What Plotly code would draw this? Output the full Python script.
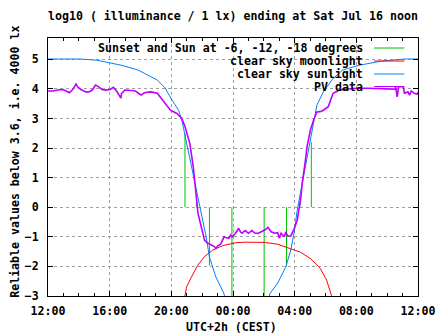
import plotly.graph_objects as go

# ---------------- data (x in hours after Fri 12:00 CEST) ----------------
tick_hours = [0, 4, 8, 12, 16, 20, 24]
tick_labels = ["12:00", "16:00", "20:00", "00:00", "04:00", "08:00", "12:00"]

# clear sky sunlight
sun_t = [0.00, 2.03, 3.17, 4.75, 5.83, 7.09, 7.60, 8.04, 8.47, 8.68, 8.99, 9.31, 9.73,
         10.05, 10.26, 10.47, 10.89, 11.40, 11.60, 14.20, 14.38, 14.90, 15.43, 15.75,
         15.96, 16.17, 16.38, 16.70, 17.02, 17.33, 17.44, 17.86, 18.49, 19.13, 20.18,
         21.66, 23.12, 24.00]
sun_v = [5.01, 5.01, 4.97, 4.80, 4.64, 4.30, 4.03, 3.62, 3.28, 2.95, 2.17, 1.36, 0.34,
         -0.43, -1.00, -1.68, -2.36, -2.90, -3.30, -3.30, -2.93, -2.56, -2.01, -1.45,
         -0.87, -0.09, 0.48, 1.37, 2.27, 3.06, 3.45, 3.90, 4.35, 4.64, 4.80,
         4.94, 5.01, 5.01]

# clear sky moonlight
moon_t = [8.80, 8.885, 8.99, 9.31, 9.73, 10.15, 10.68, 11.32, 12.16, 12.79, 14.06, 14.90,
          15.75, 16.38, 17.01, 17.65, 18.07, 18.28, 18.38, 18.45]
moon_v = [-3.20, -2.97, -2.69, -2.35, -1.95, -1.67, -1.45, -1.30, -1.20, -1.18, -1.19, -1.25,
          -1.39, -1.52, -1.73, -2.06, -2.46, -2.80, -2.97, -3.20]

# sunset / sun at -6, -12, -18 degrees (evening and morning)
event_t = [8.885, 9.63, 10.47, 11.93, 14.02, 15.47, 16.34, 17.08]
event_top = [2.50, 0.20, -1.97, -3.00, -3.00, -2.00, 0.20, 2.20]
event_base = 0.0

# PV data
pv_t = [0.00, 0.34, 0.65, 0.97, 1.18, 1.39, 1.60, 1.82, 1.92, 2.13, 2.45, 2.66, 2.87, 3.08,
        3.29, 3.50, 3.72, 4.03, 4.24, 4.45, 4.73, 4.77, 4.98, 5.19, 5.62, 5.83, 6.04, 6.25,
        6.67, 7.09, 7.28, 7.41, 7.62, 7.94, 8.36, 8.68, 8.89, 9.20, 9.42, 9.63, 9.73, 9.94,
        10.05, 10.15, 10.37, 10.58, 10.79, 10.89, 11.00, 11.21, 11.32, 11.42, 11.53, 11.74,
        11.84, 11.95, 12.16, 12.37, 12.48, 12.58, 12.79, 13.00, 13.22, 13.43, 13.64, 13.85,
        14.06, 14.27, 14.48, 14.69, 14.90, 15.01, 15.12, 15.33, 15.43, 15.54, 15.75, 15.96,
        16.17, 16.27, 16.38, 16.49, 16.59, 16.70, 16.80, 16.91, 17.02, 17.23, 17.44, 17.65,
        17.86, 18.18, 18.28, 18.39, 18.49, 18.70, 18.92, 19.34, 19.97, 20.71, 21.45, 21.98,
        22.50, 22.55, 22.65, 22.74, 23.05, 23.12, 23.35, 23.45, 23.56, 23.77, 23.94, 24.00]
pv_v = [3.93, 3.93, 3.96, 3.98, 3.93, 3.87, 3.98, 4.16, 4.07, 3.98, 3.90, 3.90, 3.96, 4.13,
        4.07, 3.98, 3.96, 3.98, 4.05, 3.93, 3.69, 3.85, 3.96, 3.96, 3.94, 3.87, 3.79, 3.87,
        3.90, 3.85, 3.72, 3.62, 3.51, 3.28, 3.17, 3.00, 2.72, 2.16, 1.37, 0.24, -0.21, -0.66,
        -0.88, -1.11, -1.22, -1.28, -1.33, -1.39, -1.31, -1.24, -1.11, -1.00, -1.02, -1.05,
        -0.94, -1.00, -0.88, -0.71, -0.83, -0.88, -0.79, -0.88, -0.79, -0.88, -0.88, -0.83,
        -0.77, -0.68, -0.83, -0.88, -0.86, -1.05, -0.88, -1.00, -0.83, -0.97, -0.97, -0.74,
        -0.43, -0.09, 0.24, 0.81, 1.15, 1.59, 2.04, 2.38, 2.61, 2.95, 3.22, 3.23,
        3.28, 3.40, 3.56, 3.73, 3.85, 3.90, 3.96, 3.99, 4.02, 4.02, 4.02, 4.00,
        3.99, 4.07, 3.73, 4.07, 4.07, 3.85, 3.90, 3.79, 3.93, 3.85, 3.82, 3.89]

legend_labels = ["Sunset and Sun at -6, -12, -18 degrees", "clear sky moonlight",
                 "clear sky sunlight", "PV data"]

# ---------------- style ----------------
FONT = "DejaVu Sans Mono"
FS = 11.6
C_GREEN, C_RED, C_BLUE, C_PURPLE = "#00c000", "#ff0000", "#0080ff", "#c000ff"

W, H = 447, 335
ML, MR, MT, MB = 48, 20, 38, 39
PW, PH = W - ML - MR, H - MT - MB


def px_x(p):
    return (p - ML) / PW


def px_y(p):
    return (H - MB - p) / PH


def tfont():
    return dict(family=FONT, size=FS, color="black", weight="bold")


# build vertical event segments
ev_x, ev_y = [], []
for t, top in zip(event_t, event_top):
    ev_x += [t, t, None]
    ev_y += [event_base, top, None]

fig = go.Figure()
fig.add_trace(go.Scatter(x=ev_x, y=ev_y, mode="lines", line=dict(color=C_GREEN, width=1),
                         name=legend_labels[0], showlegend=False))
fig.add_trace(go.Scatter(x=moon_t, y=moon_v, mode="lines", line=dict(color=C_RED, width=1),
                         name=legend_labels[1], showlegend=False))
fig.add_trace(go.Scatter(x=sun_t, y=sun_v, mode="lines", line=dict(color=C_BLUE, width=1),
                         name=legend_labels[2], showlegend=False))
fig.add_trace(go.Scatter(x=pv_t, y=pv_v, mode="lines", line=dict(color=C_PURPLE, width=1.6),
                         name=legend_labels[3], showlegend=False))

shapes = [
    # opaque key background (hides grid only)
    dict(type="rect", xref="paper", yref="paper", x0=px_x(98), x1=1, y0=px_y(88), y1=1,
         fillcolor="white", line=dict(width=0), layer="between"),
]
annotations = []
row_y = [48, 61, 74, 86.5]
row_c = [C_GREEN, C_RED, C_BLUE, C_PURPLE]
for lab, yy, cc in zip(legend_labels, row_y, row_c):
    annotations.append(dict(text=lab, xref="paper", yref="paper", x=px_x(373), y=px_y(yy),
                            xanchor="right", yanchor="middle", showarrow=False,
                            font=tfont()))
    shapes.append(dict(type="line", xref="paper", yref="paper", x0=px_x(382), x1=px_x(413),
                       y0=px_y(yy), y1=px_y(yy), line=dict(color=cc, width=1), layer="above"))

annotations += [
    dict(text="log10 ( illuminance / 1 lx) ending at Sat Jul 16 noon", xref="paper",
         yref="paper", x=px_x(237), y=px_y(16), xanchor="center", yanchor="middle",
         showarrow=False, font=tfont()),
    dict(text="Reliable values below 3.6, i.e. 4000 lx", xref="paper", yref="paper",
         x=px_x(14), y=px_y(162), xanchor="center", yanchor="middle", textangle=-90,
         showarrow=False, font=tfont()),
    dict(text="UTC+2h (CEST)", xref="paper", yref="paper", x=px_x(236), y=px_y(327),
         xanchor="center", yanchor="middle", showarrow=False, font=tfont()),
]

fig.update_layout(
    width=W, height=H,
    margin=dict(l=ML, r=MR, t=MT, b=MB, pad=0),
    paper_bgcolor="white", plot_bgcolor="white",
    font=tfont(),
    showlegend=False,
    shapes=shapes, annotations=annotations,
)
fig.update_xaxes(
    range=[0, 24], tickvals=tick_hours, ticktext=tick_labels,
    showline=True, linecolor="black", linewidth=1, mirror="allticks",
    ticks="inside", ticklen=5, tickcolor="black",
    showgrid=True, gridcolor="#a0a0a0", griddash="3px,3px", gridwidth=1,
    zeroline=False, ticklabelstandoff=4,
    minor=dict(dtick=1, tick0=0, ticks="inside", ticklen=3, tickcolor="black", showgrid=False),
)
fig.update_yaxes(
    range=[-3, 5.72], tickvals=list(range(-3, 6)),
    showline=True, linecolor="black", linewidth=1, mirror="allticks",
    ticks="inside", ticklen=5, tickcolor="black",
    showgrid=True, gridcolor="#a0a0a0", griddash="3px,3px", gridwidth=1,
    zeroline=False, ticklabelstandoff=6,
)

fig.write_html("out.html")
